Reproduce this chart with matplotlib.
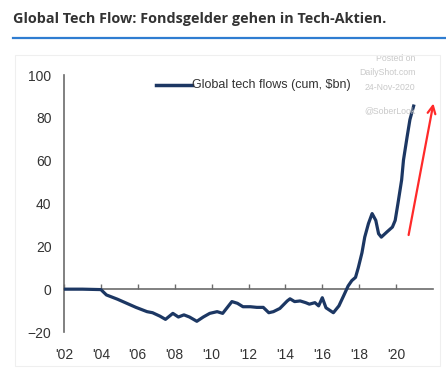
import matplotlib
matplotlib.use("Agg")
import matplotlib.pyplot as plt
from matplotlib.patches import Rectangle

# cumulative global tech fund flows, $bn
years = [2002.0, 2003.0, 2004.0, 2004.3, 2004.9, 2005.4, 2005.9, 2006.5, 2006.8,
         2007.2, 2007.5, 2007.9, 2008.2, 2008.5, 2008.8, 2009.2, 2009.55, 2009.9,
         2010.3, 2010.6, 2011.1, 2011.4, 2011.7, 2012.1, 2012.45, 2012.8, 2013.1,
         2013.35, 2013.7, 2014.1, 2014.25, 2014.5, 2014.8, 2015.1, 2015.3, 2015.6,
         2015.8, 2016.0, 2016.2, 2016.6, 2016.9, 2017.15, 2017.4, 2017.6, 2017.8,
         2017.95, 2018.15, 2018.3, 2018.5, 2018.7, 2018.9, 2019.05, 2019.2, 2019.5,
         2019.8, 2019.95, 2020.1, 2020.3, 2020.4, 2020.6, 2020.75, 2020.95]
flows = [0.0, 0.0, -0.2, -2.7, -4.7, -6.6, -8.5, -10.5, -11.0,
         -12.6, -14.1, -11.3, -13.0, -12.0, -13.0, -15.0, -13.0, -11.3,
         -10.5, -11.3, -5.8, -6.6, -8.2, -8.2, -8.5, -8.5, -11.0,
         -10.5, -9.0, -5.5, -4.5, -5.8, -5.5, -6.3, -7.0, -6.3,
         -7.8, -4.0, -8.7, -11.0, -7.8, -3.2, 1.5, 4.0, 5.5,
         10.0, 17.0, 24.3, 30.6, 35.3, 32.1, 25.9, 24.3, 26.7,
         29.0, 32.1, 40.0, 51.0, 60.3, 71.3, 79.2, 85.5]

xtick_years = list(range(2002, 2021, 2))
xtick_labels = ["'%02d" % (y - 2000) for y in xtick_years]
yticks = [-20, 0, 20, 40, 60, 80, 100]

# red trend arrow (tail, head) in data units
arrow_tail = (2020.65, 24)
arrow_head = (2022.05, 88)

title = "Global Tech Flow: Fondsgelder gehen in Tech-Aktien."
series_name = "Global tech flows (cum, $bn)"
watermark = ["Posted on", "DailyShot.com", "24-Nov-2020", "@SoberLook"]

sans = ["Liberation Sans", "DejaVu Sans"]
navy = "#1c3763"

fig = plt.figure(figsize=(4.46, 3.71), dpi=100)

# header
fig.text(13 / 446, 1 - 19 / 371, title, fontsize=10.4, fontweight="bold",
         family=["Open Sans", "DejaVu Sans"], color="#333333", va="center", ha="left")
fig.add_artist(plt.Line2D([13 / 446, 1.0], [1 - 37.5 / 371] * 2,
                          color="#2f7dd1", lw=1.6, transform=fig.transFigure))
# faint frame round the picture
fig.add_artist(Rectangle((15 / 446, 1 - 366 / 371), 425 / 446, 311 / 371,
                         transform=fig.transFigure, fill=False,
                         edgecolor="#efefef", lw=0.8))

ax = fig.add_axes([64 / 446, 1 - 332 / 371, 369 / 446, 257 / 371])
ax.plot(years, flows, color=navy, lw=2.3, solid_joinstyle="round", zorder=3)

ax.set_xlim(2002, 2022)
ax.set_ylim(-20, 100)

for s in ["top", "right"]:
    ax.spines[s].set_visible(False)
ax.spines["bottom"].set_position(("data", 0))
ax.spines["bottom"].set_color("#6b6b6b")
ax.spines["bottom"].set_linewidth(1.2)
ax.spines["left"].set_color("#6b6b6b")
ax.spines["left"].set_linewidth(1.2)

ax.set_xticks(xtick_years)
ax.set_xticklabels(xtick_labels)
ax.set_yticks(yticks)
ax.tick_params(axis="x", direction="in", length=3.5, width=1, color="#6b6b6b",
               pad=42, labelsize=10, labelcolor="#333333")
ax.tick_params(axis="y", length=0, pad=9, labelsize=10, labelcolor="#333333")
for lab in ax.get_xticklabels() + ax.get_yticklabels():
    lab.set_family(sans)

# legend
ax.plot([2007.0, 2008.95], [95.5, 95.5], color=navy, lw=2.5)
ax.text(2008.95, 95.5, series_name, fontsize=9, family=sans,
        color="#333333", va="center", ha="left")

# watermark
wm_y = [107.5, 101, 94, 83.5]
for txt, yy in zip(watermark, wm_y):
    ax.text(2021.05, yy, txt, fontsize=6.3, color="#c9c9c9", family=sans,
            ha="right", va="center", clip_on=False)

ax.annotate("", xy=arrow_head, xytext=arrow_tail,
            arrowprops=dict(arrowstyle="->", color="#ff2a2a", lw=1.6,
                            mutation_scale=14),
            annotation_clip=False)

fig.savefig("out.png", dpi=100)
